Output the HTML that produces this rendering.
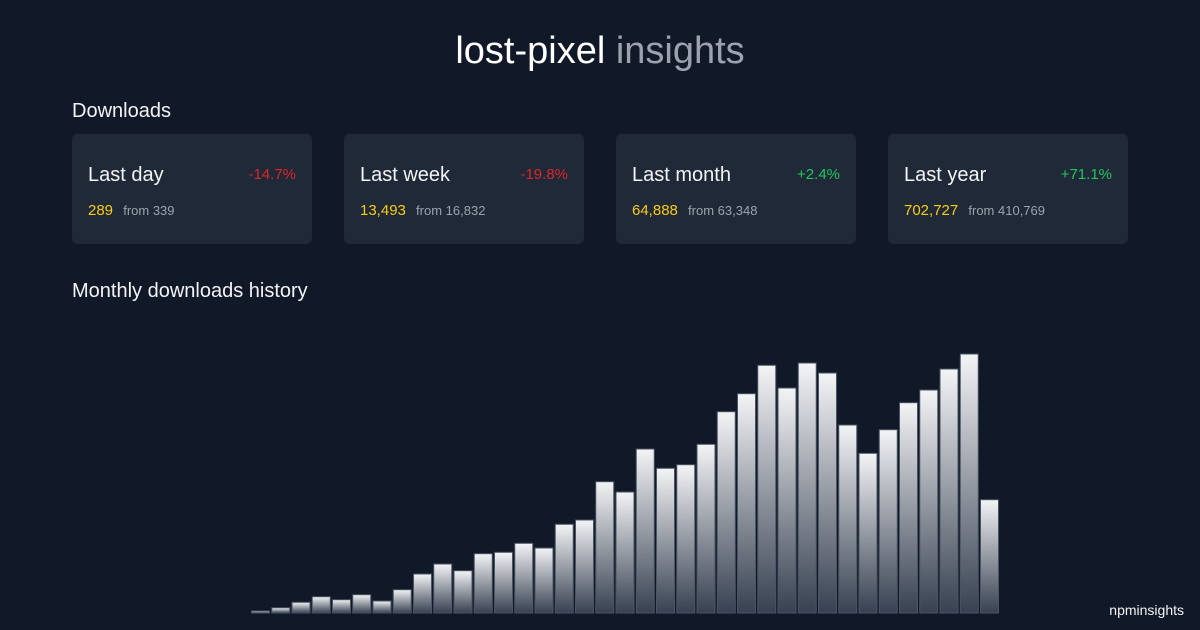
<!DOCTYPE html>
<html><head><meta charset="utf-8"><style>
body{margin:0;width:1200px;height:630px;background:#111827;font-family:"Liberation Sans","DejaVu Sans",sans-serif;color:#f3f4f6;position:relative;overflow:hidden}
.t{position:absolute;top:30px;left:0;width:1200px;text-align:center;font-size:38px;color:#fff}
.t span{color:#9ca3af}
.h{position:absolute;left:72px;font-size:20px;color:#f3f4f6}
.c{position:absolute;top:134px;width:240px;height:110px;background:#1f2937;border-radius:6px}
.c .n{position:absolute;left:16px;top:30px;font-size:20px;color:#f3f4f6}
.c .p{position:absolute;right:16px;top:32px;font-size:15px}
.c .v{position:absolute;left:16px;top:68px;font-size:15px;color:#facc15}
.c .v small{font-size:13px;color:#9ca3af;margin-left:6px}
.r{color:#dc2626}.g{color:#22c55e}
.f{position:absolute;right:16px;bottom:12px;font-size:14px;color:#f3f4f6}
</style></head><body>
<div class="t">lost-pixel <span>insights</span></div>
<div class="h" style="top:100px">Downloads</div>
<div class="c" style="left:72px"><div class="n">Last day</div><div class="p r">-14.7%</div><div class="v">289 <small>from 339</small></div></div>
<div class="c" style="left:344px"><div class="n">Last week</div><div class="p r">-19.8%</div><div class="v">13,493 <small>from 16,832</small></div></div>
<div class="c" style="left:616px"><div class="n">Last month</div><div class="p g">+2.4%</div><div class="v">64,888 <small>from 63,348</small></div></div>
<div class="c" style="left:888px"><div class="n">Last year</div><div class="p g">+71.1%</div><div class="v">702,727 <small>from 410,769</small></div></div>
<div class="h" style="top:280px">Monthly downloads history</div>
<svg width="1200" height="630" style="position:absolute;left:0;top:0">
<defs><linearGradient id="gr" x1="0" y1="0" x2="0" y2="1"><stop offset="0" stop-color="#f3f4f6"/><stop offset="1" stop-color="#374151"/></linearGradient></defs>
<g id="b" fill="url(#gr)" stroke="#4b5563" stroke-width="1"></g>
</svg>
<div class="f">npminsights</div>
<script>
var tops=[611,607.7,602.3,596.7,599.7,594.7,601,589.7,574,564,570.7,553.7,552.3,543.3,548,524.3,520,481.7,492,449,468.3,464.7,444.3,411.7,393.7,365.3,388,363,373,425,453.3,429.7,402.7,390,369,354,499.7];
var g=document.getElementById('b'),s='';
for(var i=0;i<tops.length;i++){var x=251.5+i*20.25;s+='<rect x="'+x+'" y="'+tops[i]+'" width="18" height="'+(613-tops[i])+'"/>';}
g.innerHTML=s;
</script>
</body></html>
